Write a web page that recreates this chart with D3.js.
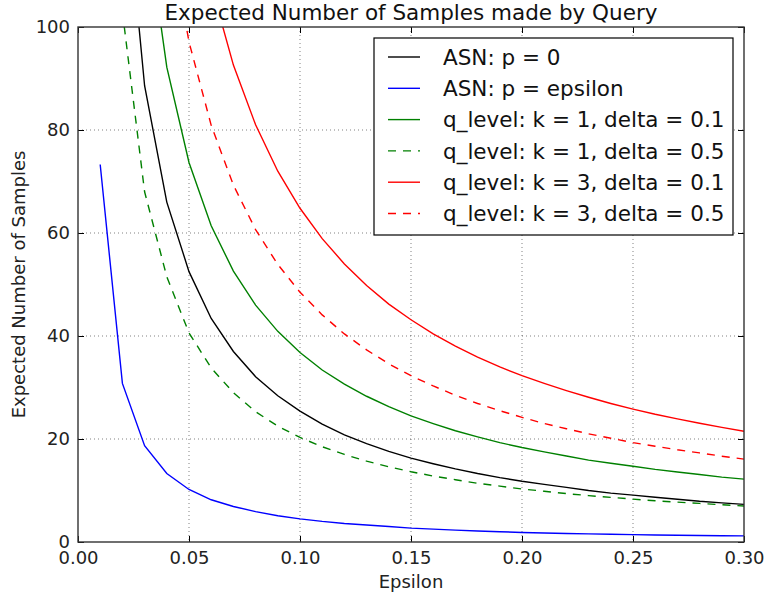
<!DOCTYPE html>
<html>
<head>
<meta charset="utf-8">
<script src="https://cdn.jsdelivr.net/npm/d3@7"></script>
<style>
  html, body { margin: 0; padding: 0; background: #fff; }
  svg { display: block; font-family: "DejaVu Sans", sans-serif; }
</style>
</head>
<body>
<svg id="chart" width="764" height="597"></svg>
<script>
// ---- data ----
const epsilon = [0.01,0.02,0.03,0.04,0.05,0.06,0.07,0.08,0.09,0.10,
                 0.11,0.12,0.13,0.14,0.15,0.16,0.17,0.18,0.19,0.20,
                 0.21,0.22,0.23,0.24,0.25,0.26,0.27,0.28,0.29,0.30];
const asnP0 = [269.3,133.8,88.6,66.0,52.5,43.4,37.0,32.1,28.4,25.4,
               22.9,20.8,19.1,17.6,16.3,15.2,14.2,13.3,12.5,11.8,
               11.2,10.6,10.0,9.5,9.1,8.7,8.3,7.9,7.6,7.3];
const asnPEps = [73.3,30.8,18.7,13.3,10.2,8.2,6.9,5.9,5.1,4.5,
                 4.0,3.6,3.3,3.0,2.7,2.5,2.3,2.15,2.0,1.85,
                 1.75,1.65,1.57,1.5,1.43,1.37,1.32,1.27,1.22,1.18];
const qK1D01 = [368.9,184.4,122.9,92.2,73.7,61.4,52.6,46.0,40.9,36.8,
                33.4,30.65,28.3,26.3,24.5,23.0,21.6,20.4,19.3,18.35,
                17.5,16.7,15.9,15.3,14.7,14.1,13.6,13.1,12.6,12.2];
const qK1D05 = [null,103.0,68.0,51.5,40.6,33.8,29.0,25.3,22.5,20.3,
                18.5,17.0,15.7,14.6,13.65,12.8,12.1,11.4,10.85,10.3,
                9.85,9.4,9.0,8.66,8.33,8.0,7.74,7.5,7.23,7.0];
const qK3D01 = [649.4,324.6,216.4,162.2,129.75,108.1,92.6,81.0,72.0,64.8,
                58.9,54.0,49.8,46.2,43.15,40.4,38.05,35.9,34.0,32.3,
                30.8,29.4,28.1,26.9,25.8,24.8,23.9,23.05,22.25,21.5];
const qK3D05 = [485.9,242.9,161.9,121.4,97.1,80.9,69.3,60.65,53.9,48.5,
                44.1,40.4,37.3,34.6,32.3,30.3,28.5,26.9,25.5,24.2,
                23.0,22.0,21.0,20.15,19.3,18.6,17.9,17.3,16.66,16.1];
const seriesLabels = ["ASN: p = 0","ASN: p = epsilon",
                      "q_level: k = 1, delta = 0.1","q_level: k = 1, delta = 0.5",
                      "q_level: k = 3, delta = 0.1","q_level: k = 3, delta = 0.5"];
const xTicks = [0.00,0.05,0.10,0.15,0.20,0.25,0.30];
const yTicks = [0,20,40,60,80,100];
const titleText = "Expected Number of Samples made by Query";
const xLabel = "Epsilon";
const yLabel = "Expected Number of Samples";

// ---- layout / style ----
const series = [
  {label: seriesLabels[0], values: asnP0,   color: "#000000", dash: null},
  {label: seriesLabels[1], values: asnPEps, color: "#0000ff", dash: null},
  {label: seriesLabels[2], values: qK1D01,  color: "#008000", dash: null},
  {label: seriesLabels[3], values: qK1D05,  color: "#008000", dash: "8,7"},
  {label: seriesLabels[4], values: qK3D01,  color: "#ff0000", dash: null},
  {label: seriesLabels[5], values: qK3D05,  color: "#ff0000", dash: "8,7"}
];

const L = 78, R = 744, T = 27, B = 542;
const svg = d3.select("#chart");
const x = d3.scaleLinear().domain([0, 0.30]).range([L, R]);
const y = d3.scaleLinear().domain([0, 100]).range([B, T]);

// clip
svg.append("defs").append("clipPath").attr("id", "clip")
  .append("rect").attr("x", L).attr("y", T).attr("width", R - L).attr("height", B - T);

// grid
const grid = svg.append("g");
grid.selectAll("line.gx").data(xTicks.slice(1, -1)).enter().append("line")
  .attr("x1", d => x(d)).attr("x2", d => x(d)).attr("y1", T).attr("y2", B)
  .attr("stroke", "#000").attr("stroke-width", 0.7).attr("stroke-dasharray", "1,3").attr("opacity", 0.7);
grid.selectAll("line.gy").data(yTicks.slice(1, -1)).enter().append("line")
  .attr("y1", d => y(d)).attr("y2", d => y(d)).attr("x1", L).attr("x2", R)
  .attr("stroke", "#000").attr("stroke-width", 0.7).attr("stroke-dasharray", "1,3").attr("opacity", 0.7);

// lines
const line = d3.line().defined(d => d[1] != null).x(d => x(d[0])).y(d => y(d[1]));
const plot = svg.append("g").attr("clip-path", "url(#clip)");
series.forEach(s => {
  plot.append("path")
    .datum(epsilon.map((e, i) => [e, s.values[i]]))
    .attr("d", line).attr("fill", "none")
    .attr("stroke", s.color).attr("stroke-width", 1.4)
    .attr("stroke-dasharray", s.dash);
});

// axes (ticks inside, on all four sides)
const tl = 6;
const axB = d3.axisBottom(x).tickValues(xTicks).tickFormat(d3.format(".2f")).tickSizeInner(-tl).tickSizeOuter(0).tickPadding(9);
const axL = d3.axisLeft(y).tickValues(yTicks).tickFormat(d3.format("d")).tickSizeInner(-tl).tickSizeOuter(0).tickPadding(8);
const axT = d3.axisTop(x).tickValues(xTicks).tickFormat("").tickSizeInner(-tl).tickSizeOuter(0);
const axR = d3.axisRight(y).tickValues(yTicks).tickFormat("").tickSizeInner(-tl).tickSizeOuter(0);
function styleAxis(g) {
  g.select(".domain").remove();
  g.selectAll(".tick line").attr("stroke", "#000").attr("stroke-width", 1);
  g.selectAll("text").attr("font-family", "DejaVu Sans").attr("font-size", 18).attr("fill", "#222");
}
svg.append("g").attr("transform", `translate(0,${B})`).call(axB).call(styleAxis);
svg.append("g").attr("transform", `translate(${L},0)`).call(axL).call(styleAxis);
svg.append("g").attr("transform", `translate(0,${T})`).call(axT).call(styleAxis);
svg.append("g").attr("transform", `translate(${R},0)`).call(axR).call(styleAxis);

// frame
svg.append("rect").attr("x", L).attr("y", T).attr("width", R - L).attr("height", B - T)
  .attr("fill", "none").attr("stroke", "#333").attr("stroke-width", 1.4);

// title & labels
svg.append("text").attr("x", (L + R) / 2).attr("y", 20).attr("text-anchor", "middle")
  .attr("font-size", 21.5).attr("fill", "#111").text(titleText);
svg.append("text").attr("x", (L + R) / 2).attr("y", 588).attr("text-anchor", "middle")
  .attr("font-size", 18).attr("fill", "#222").text(xLabel);
svg.append("text").attr("transform", `translate(25,${(T + B) / 2}) rotate(-90)`)
  .attr("text-anchor", "middle").attr("font-size", 18).attr("fill", "#222").text(yLabel);

// legend
const lg = svg.append("g");
lg.append("rect").attr("x", 374).attr("y", 38).attr("width", 359).attr("height", 197)
  .attr("fill", "#fff").attr("stroke", "#000").attr("stroke-width", 1.2);
series.forEach((s, i) => {
  const yy = 57 + i * 31.3;
  lg.append("line").attr("x1", 388).attr("x2", 420).attr("y1", yy).attr("y2", yy)
    .attr("stroke", s.color).attr("stroke-width", 1.4).attr("stroke-dasharray", s.dash ? "8,7" : null);
  lg.append("text").attr("x", 443).attr("y", yy).attr("dy", "0.36em")
    .attr("font-size", 21.5).attr("fill", "#111").text(s.label);
});
</script>
</body>
</html>
